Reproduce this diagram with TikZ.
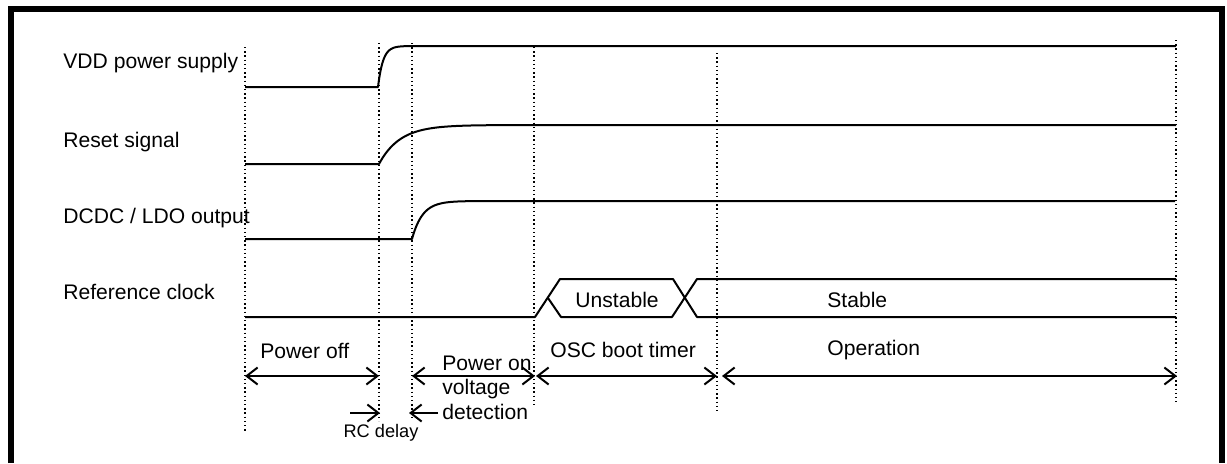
\documentclass[tikz,border=0pt]{standalone}
\usepackage{fontspec}
\setmainfont{Liberation Sans}
\usetikzlibrary{arrows.meta}
\begin{document}
\begin{tikzpicture}[x=0.5pt,y=-0.5pt,
  sig/.style={line width=1pt, line join=round},
  guide/.style={line width=0.7pt, dash pattern=on 0.7pt off 1.4pt},
  span/.style={line width=1pt, {Straight Barb[length=5.5pt,width=8.5pt]}-{Straight Barb[length=5.5pt,width=8.5pt]}},
  oneway/.style={line width=1pt, -{Straight Barb[length=5.5pt,width=8.5pt]}},
  lbl/.style={font=\fontsize{10.55pt}{12.25pt}\selectfont, inner sep=0pt, anchor=base west},
  small/.style={font=\fontsize{9.1pt}{11pt}\selectfont, inner sep=0pt, anchor=base},
]
\useasboundingbox (0,0) rectangle (1227,463);
% frame
\draw[line width=3pt] (11,463) -- (11,9) -- (1222,9) -- (1222,463);

% time markers
\coordinate (g1a) at (245,47);   \coordinate (g1b) at (245,432);
\coordinate (g2a) at (379,43);   \coordinate (g2b) at (379,421);
\coordinate (g3a) at (412,43);   \coordinate (g3b) at (412,420);
\coordinate (g4a) at (534,47);   \coordinate (g4b) at (534,406);
\coordinate (g5a) at (717,53);   \coordinate (g5b) at (717,413);
\coordinate (g6a) at (1176,40);  \coordinate (g6b) at (1176,402);
\draw[guide] (g1a) -- (g1b);
\draw[guide] (g2a) -- (g2b);
\draw[guide] (g3a) -- (g3b);
\draw[guide] (g4a) -- (g4b);
\draw[guide] (g5a) -- (g5b);
\draw[guide] (g6a) -- (g6b);

% signal labels
\node[lbl] (vdd) at (63,68) {VDD power supply};
\node[lbl] (rst) at (63,147) {Reset signal};
\node[lbl] (dcdc) at (63,223) {DCDC / LDO output};
\node[lbl] (refclk) at (63,299) {Reference clock};

% VDD
\draw[sig] (245,87) -- (378,87) -- plot[domain=0:34,samples=50] ({378+\x},{87-41*(1-exp(-\x/5))}) -- (1176,46);
% Reset
\draw[sig] (245,164) -- (379,164) -- plot[domain=0:134,samples=80] ({379+\x},{164-39*(1-exp(-\x/21))}) -- (1176,125);
% DCDC / LDO
\draw[sig] (245,239) -- (412,239) -- plot[domain=0:75,samples=60] ({412+\x},{239-38*(1-exp(-\x/10.5))}) -- (1175,201);
% Reference clock
\coordinate (c0) at (245,317);
\coordinate (c1) at (535,317);
\coordinate (c2) at (560,279);
\coordinate (cx) at (548,298);
\coordinate (c3) at (561,317);
\coordinate (c4) at (673,279);
\coordinate (c5) at (672,317);
\coordinate (c6) at (697,317);
\coordinate (c7) at (697,279);
\coordinate (c8) at (1176,317);
\coordinate (c9) at (1176,279);
\draw[sig] (c0) -- (c1) -- (c2) -- (c4) -- (c6) -- (c8);
\draw[sig] (cx) -- (c3) -- (c5) -- (c7) -- (c9);
\node[lbl] (unst) at (575,307) {Unstable};
\node[lbl] (stab) at (827,307) {Stable};

% phases
\coordinate (p1) at (245,376);
\coordinate (p2) at (379,376);
\coordinate (p3) at (412,376);
\coordinate (p4) at (535,376);
\coordinate (p5) at (536,376);
\coordinate (p6) at (717,376);
\coordinate (p7) at (722,376);
\coordinate (p8) at (1177,376);
\draw[span] (p1) -- (p2);
\draw[span] (p3) -- (p4);
\draw[span] (p5) -- (p6);
\draw[span] (p7) -- (p8);
\node[lbl] (poff) at (260,358) {Power off};
\node[lbl, align=left] (pon) at (442,419) {Power on\\voltage\\detection};
\node[lbl] (osc) at (550,357) {OSC boot timer};
\node[lbl] (oper) at (827,355) {Operation};

% RC delay
\coordinate (r1) at (350,413);
\coordinate (r2) at (380,413);
\coordinate (r3) at (438,413);
\coordinate (r4) at (409,413);
\draw[oneway] (r1) -- (r2);
\draw[oneway] (r3) -- (r4);
\node[small] (rc) at (381,437) {RC delay};
\end{tikzpicture}
\end{document}
